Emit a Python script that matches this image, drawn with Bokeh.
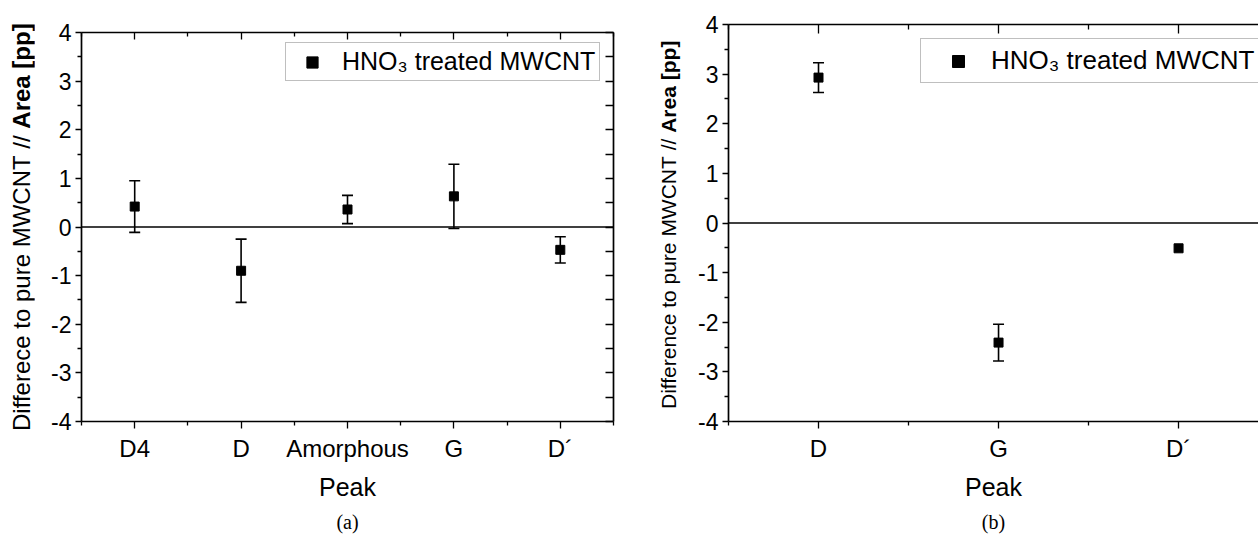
from bokeh.plotting import figure
from bokeh.models import (Range1d, FixedTicker, LinearAxis, Whisker, TeeHead,
                          ColumnDataSource, Span, Title, Div)
from bokeh.layouts import row, column
from bokeh.embed import file_html
from bokeh.resources import INLINE

# ---------------- data ----------------
peaks_a = ["D4", "D", "Amorphous", "G", "D\u00b4"]
values_a = [0.42, -0.90, 0.36, 0.63, -0.47]
errors_a = [0.53, 0.65, 0.29, 0.66, 0.27]

peaks_b = ["D", "G", "D\u00b4"]
values_b = [2.93, -2.41, -0.51]
errors_b = [0.30, 0.37, 0.0]

y_ticks = [-4, -3, -2, -1, 0, 1, 2, 3, 4]
series_name = "HNO\u2083 treated MWCNT"
ylabel_a = ("Differece to pure MWCNT // ", "Area [pp]")
ylabel_b = ("Difference to pure MWCNT // ", "Area [pp]")
x_title = "Peak"
captions = ["(a)", "(b)"]

FONT = "Liberation Sans"
SERIF = "Liberation Serif"
H = 538


def style_axis(ax, mj_in, mn_in, mj_out, mn_out):
    ax.axis_line_color = "black"
    ax.axis_line_width = 1.7
    ax.major_tick_line_color = "black"
    ax.minor_tick_line_color = "black"
    ax.major_tick_line_width = 1.3
    ax.minor_tick_line_width = 1.3
    ax.major_tick_in = mj_in
    ax.minor_tick_in = mn_in
    ax.major_tick_out = mj_out
    ax.minor_tick_out = mn_out
    ax.major_label_text_font = FONT
    ax.major_label_text_color = "black"


def blank_axis(ax, ticks):
    ax.major_label_overrides = {t: "" for t in ticks}
    ax.major_label_text_font_size = "1px"
    ax.major_label_standoff = 0


def label_div(width, text, center_x, bottom_y, size):
    # rotated y-axis title with a bold part, as real HTML text
    html = (
        f'<div style="position:relative;width:{width}px;height:{H}px;overflow:visible;">'
        f'<span style="position:absolute;left:{center_x - size / 2}px;top:{bottom_y}px;'
        f'transform:rotate(-90deg);transform-origin:0 0;white-space:nowrap;'
        f'font-family:\'{FONT}\';font-size:{size}px;line-height:{size}px;color:black;">'
        f'{text[0].replace(" ", "&nbsp;")}<b>{text[1].replace(" ", "&nbsp;")}</b></span></div>'
    )
    return Div(text=html, width=width, height=H, margin=0)


def panel(peaks, values, errors, caption, width, b_left, b_top, b_bottom,
          b_right, x_end, right_axis, top_in, leg):
    xs = [i + 0.5 for i in range(len(peaks))]
    src = ColumnDataSource(dict(x=xs, y=values))
    has_err = [i for i, e in enumerate(errors) if e > 0]
    wsrc = ColumnDataSource(dict(
        x=[xs[i] for i in has_err],
        upper=[values[i] + errors[i] for i in has_err],
        lower=[values[i] - errors[i] for i in has_err]))
    y_minor = [(a + b) / 2 for a, b in zip(y_ticks[:-1], y_ticks[1:])]
    x_minor = list(range(len(peaks) + 1))

    p = figure(width=width, height=H, output_backend="svg", toolbar_location=None,
               title=None,
               x_range=Range1d(0, x_end), y_range=Range1d(y_ticks[0], y_ticks[-1]),
               min_border_left=b_left, min_border_top=b_top,
               min_border_bottom=b_bottom, min_border_right=b_right)
    p.outline_line_color = None
    p.grid.visible = False

    # bottom axis
    xa = p.xaxis[0]
    xa.ticker = FixedTicker(ticks=xs, minor_ticks=x_minor)
    xa.major_label_overrides = {x: n for x, n in zip(xs, peaks)}
    style_axis(xa, 0, 0, 7, 4)
    xa.major_label_text_font_size = "24px"
    xa.major_label_standoff = 6
    xa.axis_label = x_title
    xa.axis_label_text_font = FONT
    xa.axis_label_text_font_size = "25px"
    xa.axis_label_text_font_style = "normal"
    xa.axis_label_text_color = "black"
    xa.axis_label_standoff = 8

    # left axis
    ya = p.yaxis[0]
    ya.ticker = FixedTicker(ticks=y_ticks, minor_ticks=y_minor)
    ya.major_label_overrides = {t: str(t) for t in y_ticks}
    style_axis(ya, 0, 0, 6, 4)
    ya.major_label_text_font_size = "23px"
    ya.major_label_standoff = 4

    # top axis (ticks inward)
    ta = LinearAxis(ticker=FixedTicker(ticks=xs, minor_ticks=x_minor))
    style_axis(ta, top_in[0], top_in[1], 0, 0)
    blank_axis(ta, xs)
    p.add_layout(ta, "above")

    if right_axis:
        ra = LinearAxis(ticker=FixedTicker(ticks=y_ticks, minor_ticks=y_minor))
        style_axis(ra, 8, 8, 0, 0)
        blank_axis(ra, y_ticks)
        p.add_layout(ra, "right")

    p.add_layout(Span(location=0, dimension="width", line_color="black", line_width=1.5))

    p.add_layout(Whisker(source=wsrc, base="x", upper="upper", lower="lower",
                         line_color="black", line_width=1.6,
                         upper_head=TeeHead(size=11, line_color="black", line_width=1.6),
                         lower_head=TeeHead(size=11, line_color="black", line_width=1.6)))
    p.scatter("x", "y", source=src, marker="square", size=9, color="black",
              legend_label=series_name)

    lg = p.legend[0]
    lg.location = leg["loc"]
    lg.margin = 0
    lg.padding = leg["pad"]
    lg.glyph_width = leg["gw"]
    lg.glyph_height = leg["lh"]
    lg.label_height = leg["lh"]
    lg.label_standoff = leg["so"]
    lg.label_text_font = FONT
    lg.label_text_font_size = leg["fs"]
    lg.label_text_color = "black"
    lg.border_line_color = "#808080"
    lg.border_line_width = 1.2
    lg.background_fill_alpha = 1

    p.add_layout(Title(text=caption, align="center", text_font=SERIF,
                       text_font_size="20px", text_font_style="normal",
                       text_color="black", standoff=11), "below")
    return p


la = label_div(34, ylabel_a, 22, 431, 24)
pa = panel(peaks_a, values_a, errors_a, captions[0], width=586,
           b_left=47, b_top=32, b_bottom=115, b_right=7, x_end=5,
           right_axis=True, top_in=(7, 4),
           leg=dict(loc=(204, 340), pad=4, gw=44, lh=28, so=8, fs="25px"))
lb = label_div(62, ylabel_b, 48, 409, 21)
pb = panel(peaks_b, values_b, errors_b, captions[1], width=576,
           b_left=46, b_top=24, b_bottom=116, b_right=0, x_end=2.944,
           right_axis=False, top_in=(9, 5),
           leg=dict(loc=(192, 338), pad=6, gw=62, lh=30, so=2, fs="26px"))

layout = row(column(row(la, pa)), column(row(lb, pb)))
open("out.html", "w").write(file_html(layout, INLINE))
